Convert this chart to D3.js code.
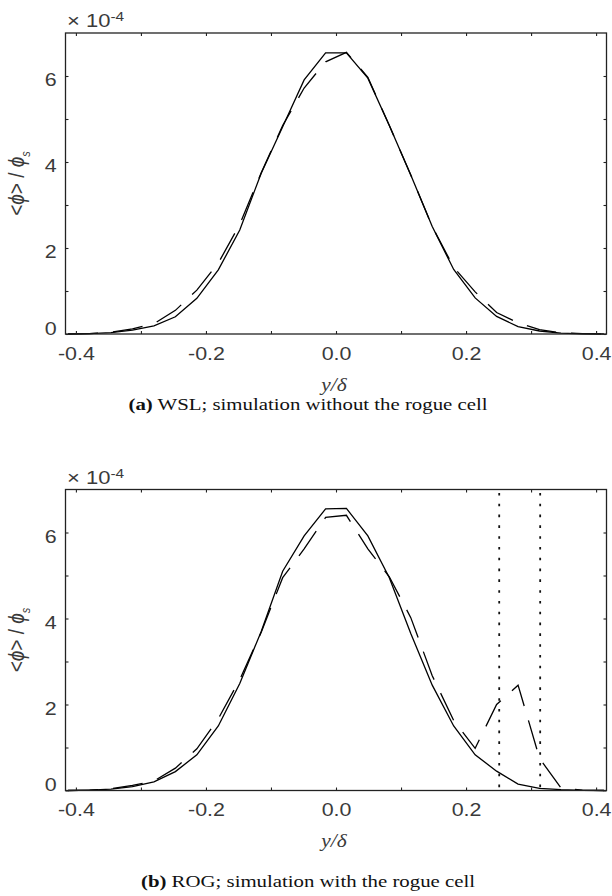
<!DOCTYPE html>
<html>
<head>
<meta charset="utf-8">
<script src="https://cdn.jsdelivr.net/npm/d3@7"></script>
<style>
  body { margin: 0; background: #fff; }
  svg text { font-family: "Liberation Sans", Arial, sans-serif; }
</style>
</head>
<body>
<svg id="fig" width="612" height="896"></svg>
<script>
// wall-normal positions of the profile samples (y/delta)
const yDelta = [-0.412, -0.379, -0.346, -0.313, -0.280, -0.247, -0.214, -0.181, -0.148, -0.115, -0.082, -0.049, -0.016,
                0.016, 0.049, 0.082, 0.115, 0.148, 0.181, 0.214, 0.247, 0.280, 0.313, 0.346, 0.379, 0.412];

// <phi>/phi_s, in units of 1e-4
const wslSolid  = [0.00, 0.01, 0.03, 0.09, 0.19, 0.40, 0.83, 1.49, 2.42, 3.74, 4.82, 5.91, 6.54,
                   6.54, 5.95, 4.85, 3.70, 2.50, 1.50, 0.84, 0.41, 0.17, 0.07, 0.02, 0.005, 0.00];
const wslDashed = [0.00, 0.01, 0.04, 0.12, 0.24, 0.55, 1.02, 1.65, 2.55, 3.75, 4.85, 5.72, 6.33,
                   6.55, 5.97, 4.85, 3.70, 2.50, 1.55, 0.98, 0.50, 0.26, 0.10, 0.03, 0.01, 0.00];
const rogSolid  = [0.00, 0.01, 0.03, 0.09, 0.20, 0.44, 0.83, 1.50, 2.49, 3.70, 5.10, 5.92, 6.55,
                   6.56, 5.92, 4.95, 3.65, 2.45, 1.50, 0.83, 0.45, 0.15, 0.05, 0.02, 0.005, 0.00];
const rogDashed = [0.00, 0.01, 0.04, 0.12, 0.22, 0.52, 0.97, 1.67, 2.58, 3.68, 4.95, 5.62, 6.35,
                   6.40, 5.62, 4.97, 4.02, 2.67, 1.63, 0.98, 2.00, 2.45, 0.75, 0.06, 0.01, 0.00];

// edges of the rogue cell (dotted lines, panel b)
const rogueEdges = [0.251, 0.314];

const xTicks = [-0.4, -0.3, -0.2, -0.1, 0.0, 0.1, 0.2, 0.3, 0.4];
const xTickLabels = ['-0.4', '', '-0.2', '', '0.0', '', '0.2', '', '0.4'];
const yTicks = [0, 1, 2, 3, 4, 5, 6];
const yTickLabels = ['0', '', '2', '', '4', '', '6'];

const SX = 1.19; // the printed figure is a little wider than tall, text included
const serif = '"Liberation Serif", "Times New Roman", serif';
const svg = d3.select('#fig');

function drawPanel(top, solid, dashed, tag, caption, capY, edges) {
  const left = 65.5, right = 606.5, bottom = top + 301;
  const x = d3.scaleLinear().domain([-0.416, 0.416]).range([left, right]);
  const y = d3.scaleLinear().domain([0, 7]).range([bottom, top]);

  const g = svg.append('g');

  // rogue cell edges
  g.selectAll('line.edge')
      .data(edges)
      .enter()
      .append('line')
      .attr('class', 'edge')
      .attr('x1', d => x(d)).attr('x2', d => x(d))
      .attr('y1', y(6.92)).attr('y2', y(0))
      .attr('stroke', '#111')
      .attr('stroke-width', 1.8)
      .attr('stroke-dasharray', '2.6,8.2');

  const line = d3.line()
      .x((d, i) => x(yDelta[i]))
      .y(d => y(d));

  g.append('path')
      .datum(solid)
      .attr('d', line)
      .attr('fill', 'none')
      .attr('stroke', '#000')
      .attr('stroke-width', 1.3);

  g.append('path')
      .datum(dashed)
      .attr('d', line)
      .attr('fill', 'none')
      .attr('stroke', '#000')
      .attr('stroke-width', 1.3)
      .attr('stroke-dasharray', '30,15');

  // axes: ticks pointing inward on all four sides
  const axB = d3.axisBottom(x).tickValues(xTicks).tickSizeInner(-3).tickSizeOuter(0)
      .tickFormat((d, i) => xTickLabels[i]).tickPadding(13);
  const axT = d3.axisTop(x).tickValues(xTicks).tickSizeInner(-3).tickSizeOuter(0).tickFormat('');
  const axL = d3.axisLeft(y).tickValues(yTicks).tickSizeInner(-3).tickSizeOuter(0)
      .tickFormat((d, i) => yTickLabels[i]).tickPadding(7.5);
  const axR = d3.axisRight(y).tickValues(yTicks).tickSizeInner(-3).tickSizeOuter(0).tickFormat('');

  const gb = g.append('g').attr('transform', 'translate(0,' + bottom + ')').call(axB);
  const gt = g.append('g').attr('transform', 'translate(0,' + top + ')').call(axT);
  const gl = g.append('g').attr('transform', 'translate(' + left + ',0)').call(axL);
  const gr = g.append('g').attr('transform', 'translate(' + right + ',0)').call(axR);

  [gb, gt, gl, gr].forEach(a => {
    a.select('.domain').remove();
    a.selectAll('line').attr('stroke', '#222').attr('stroke-width', 1.1);
    a.selectAll('text')
        .attr('fill', '#3a3a3a')
        .attr('transform', 'scale(' + SX + ',1)')
        .style('font-family', '"Liberation Sans", Arial, sans-serif')
        .style('font-size', '18px');
  });
  gl.selectAll('text').attr('dy', d => d === 0 ? '0.02em' : '0.53em');

  // box
  g.append('rect')
      .attr('x', left).attr('y', top)
      .attr('width', right - left).attr('height', bottom - top)
      .attr('fill', 'none')
      .attr('stroke', '#222')
      .attr('stroke-width', 1.3);

  // exponent
  const ex = g.append('text')
      .attr('transform', 'translate(67,' + (top - 6) + ') scale(' + SX + ',1)')
      .attr('fill', '#3a3a3a')
      .style('font-size', '18.5px');
  ex.append('tspan').text('\u00d7 10');
  ex.append('tspan').attr('dy', -6).style('font-size', '13px').text('-4');

  // y label
  const yl = g.append('text')
      .attr('transform', 'translate(24,' + (top + bottom) / 2 + ') scale(' + SX + ',1) rotate(-90)')
      .attr('text-anchor', 'middle')
      .attr('fill', '#3a3a3a')
      .style('font-size', '19px');
  yl.append('tspan').text('<');
  yl.append('tspan').style('font-style', 'italic').text('\u03d5');
  yl.append('tspan').text('> / ');
  yl.append('tspan').style('font-style', 'italic').text('\u03d5');
  yl.append('tspan').attr('dy', 5).style('font-size', '11px').style('font-style', 'italic').text('s');

  // x label
  g.append('text')
      .attr('transform', 'translate(334,' + (bottom + 56.5) + ') scale(' + SX + ',1)')
      .attr('text-anchor', 'middle')
      .attr('fill', '#3a3a3a')
      .style('font-family', serif)
      .style('font-style', 'italic')
      .style('font-size', '18px')
      .text('y/\u03b4');

  // caption
  const cap = g.append('text')
      .attr('transform', 'translate(308,' + capY + ') scale(' + SX + ',1)')
      .attr('text-anchor', 'middle')
      .attr('fill', '#111')
      .style('font-family', serif)
      .style('font-size', '17.5px');
  cap.append('tspan').style('font-weight', 'bold').text(tag);
  cap.append('tspan').text(' ' + caption);
}

drawPanel(33, wslSolid, wslDashed, '(a)', 'WSL; simulation without the rogue cell', 410, []);
drawPanel(489.5, rogSolid, rogDashed, '(b)', 'ROG; simulation with the rogue cell', 887, rogueEdges);
</script>
</body>
</html>
